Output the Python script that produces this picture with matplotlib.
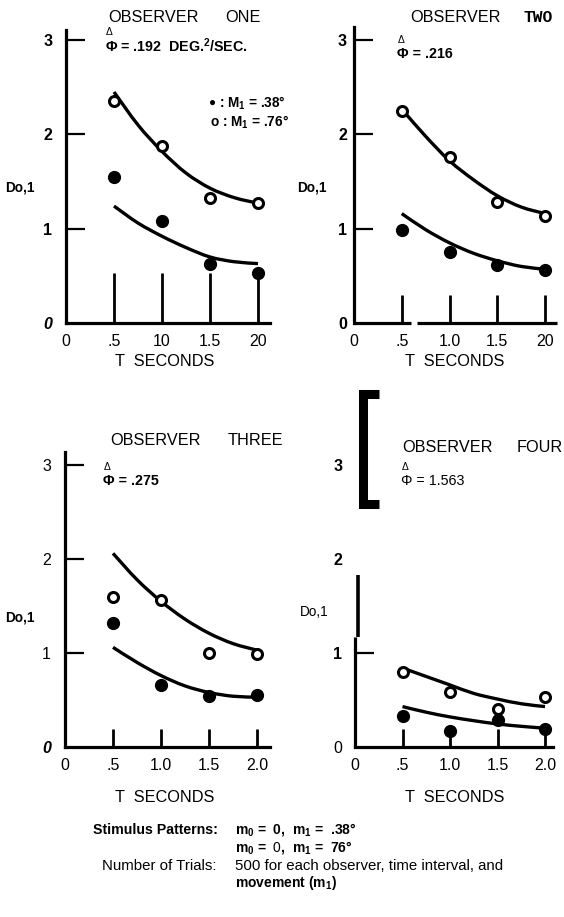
import matplotlib.pyplot as plt
from matplotlib.path import Path
from matplotlib.patches import PathPatch

plt.rcParams['font.family'] = ['Liberation Sans', 'DejaVu Sans']
plt.rcParams['mathtext.fontset'] = 'custom'
plt.rcParams['mathtext.rm'] = 'Liberation Sans'
plt.rcParams['mathtext.it'] = 'Liberation Sans:italic'
plt.rcParams['mathtext.bf'] = 'Liberation Sans:bold'

# -----------------------
# Data (T in seconds, D o,1)
# -----------------------
t_obs = [0.5, 1.0, 1.5, 2.0]
t_fit = [0.5, 0.75, 1.0, 1.25, 1.5, 1.75, 2.0]
t_fit_two = [0.55, 0.75, 1.0, 1.25, 1.5, 1.75, 2.0]

x_ticks = [0, 0.5, 1.0, 1.5, 2.0]
y_ticks = [0, 1, 2, 3]

one_open = [2.35, 1.88, 1.33, 1.27]
one_filled = [1.55, 1.08, 0.63, 0.53]
one_fit_open = [2.45, 2.10, 1.82, 1.59, 1.43, 1.33, 1.27]
one_fit_filled = [1.24, 1.06, 0.92, 0.80, 0.70, 0.65, 0.63]

two_open = [2.25, 1.76, 1.28, 1.13]
two_filled = [0.99, 0.75, 0.62, 0.56]
two_fit_open = [2.21, 1.98, 1.72, 1.52, 1.35, 1.23, 1.16]
two_fit_filled = [1.16, 0.99, 0.85, 0.74, 0.66, 0.60, 0.57]

three_open = [1.60, 1.56, 1.00, 0.99]
three_filled = [1.32, 0.66, 0.54, 0.55]
three_fit_open = [2.06, 1.78, 1.55, 1.36, 1.21, 1.10, 1.03]
three_fit_filled = [1.06, 0.90, 0.76, 0.65, 0.58, 0.54, 0.53]

four_open = [0.80, 0.59, 0.40, 0.53]
four_filled = [0.33, 0.17, 0.29, 0.19]
four_fit_open = [0.84, 0.75, 0.66, 0.57, 0.51, 0.46, 0.43]
four_fit_filled = [0.43, 0.37, 0.32, 0.28, 0.245, 0.22, 0.20]

W, H = 564, 917
fig = plt.figure(figsize=(W / 100, H / 100), dpi=100)


def put(x, y, s, **kw):
    kw.setdefault('va', 'center')
    kw.setdefault('ha', 'left')
    kw.setdefault('fontsize', 11.7)
    fig.text(x / W, 1 - y / H, s, **kw)


def make_panel(left, base, right, top, xs, ys, xlabels, tick_len, ypad):
    ax = fig.add_axes([left / W, 1 - base / H, (right - left) / W, (base - top) / H])
    ax.set_xlim(0, (right - left) / xs)
    ax.set_ylim(0, (base - top) / ys)
    ax.patch.set_alpha(0)
    for s in ['top', 'right']:
        ax.spines[s].set_visible(False)
    for s in ['left', 'bottom']:
        ax.spines[s].set_linewidth(2.3)
    ax.set_xticks(x_ticks, xlabels, fontsize=11.5)
    ax.tick_params(axis='x', direction='in', length=tick_len, width=2, pad=8)
    ax.xaxis.get_major_ticks()[0].tick1line.set_visible(False)
    ax.set_yticks(y_ticks, ['0', '1', '2', '3'], fontsize=11.5, fontweight='bold')
    ax.tick_params(axis='y', direction='in', length=14, width=1.6, pad=ypad)
    ax.yaxis.get_major_ticks()[0].tick1line.set_visible(False)
    return ax


def smooth_curve(ax, xs, ys):
    # Catmull-Rom through the read-off points, drawn as cubic Bezier pieces
    n = len(xs)
    verts = [(xs[0], ys[0])]
    codes = [Path.MOVETO]
    for i in range(n - 1):
        a, b = max(i - 1, 0), min(i + 2, n - 1)
        c1 = (xs[i] + (xs[i + 1] - xs[a]) / 6, ys[i] + (ys[i + 1] - ys[a]) / 6)
        c2 = (xs[i + 1] - (xs[b] - xs[i]) / 6, ys[i + 1] - (ys[b] - ys[i]) / 6)
        verts += [c1, c2, (xs[i + 1], ys[i + 1])]
        codes += [Path.CURVE4] * 3
    ax.add_patch(PathPatch(Path(verts, codes), fill=False, lw=2.4, ec='k', clip_on=False))


def draw_series(ax, t_line, fit_open, fit_filled, vals_open, vals_filled):
    smooth_curve(ax, t_line, fit_open)
    smooth_curve(ax, t_fit, fit_filled)
    ax.plot(t_obs, vals_open, 'o', ms=7.2, mfc='white', mec='k', mew=2.2, clip_on=False, zorder=3)
    ax.plot(t_obs, vals_filled, 'o', ms=8.5, color='k', clip_on=False, zorder=3)


# -----------------------
# Observer one
# -----------------------
ax1 = make_panel(66, 323, 270, 30, 96, 94.3, ['0', '.5', '10', '1.5', '20'], 36, 10)
draw_series(ax1, t_fit, one_fit_open, one_fit_filled, one_open, one_filled)
ax1.get_yticklabels()[0].set_fontstyle('italic')
put(108, 17, 'OBSERVER')
put(225, 17, 'ONE')
put(106, 32, 'Δ', fontsize=7.5)
put(105, 46, 'Φ = .192  DEG.$^{\\mathbf{2}}$/SEC.', fontsize=10.3, fontweight='bold')
put(209, 103, '●', fontsize=8.5)
put(219, 103, ': M$_\\mathbf{1}$ = .38°', fontsize=9.8, fontweight='bold')
put(210, 122, 'o : M$_\\mathbf{1}$ = .76°', fontsize=9.8, fontweight='bold')
put(5, 188, 'Do,1', fontsize=9.8, fontweight='bold')
put(165, 362, 'T  SECONDS', ha='center')

# -----------------------
# Observer two
# -----------------------
ax2 = make_panel(354, 323, 557, 27, 95.5, 94.3, ['0', '.5', '1.0', '1.5', '20'], 20, 5)
draw_series(ax2, t_fit_two, two_fit_open, two_fit_filled, two_open, two_filled)
# the baseline has a small break just past .5
ax2.spines['bottom'].set_visible(False)
ax2.plot([0, 0.6], [0, 0], color='k', lw=2.3, clip_on=False, solid_capstyle='butt')
ax2.plot([0.66, 2.13], [0, 0], color='k', lw=2.3, clip_on=False, solid_capstyle='butt')
put(410, 17, 'OBSERVER')
put(523, 17, 'TWO', family='Liberation Mono', fontweight='bold')
put(398, 40, 'Δ', fontsize=7.5)
put(397, 54, 'Φ = .216', fontsize=10.3, fontweight='bold')
put(297, 187, 'Do,1', fontsize=9.8, fontweight='bold')
put(455, 362, 'T  SECONDS', ha='center')

# -----------------------
# Observer three
# -----------------------
ax3 = make_panel(65, 747, 270, 452, 96, 94, ['0', '.5', '1.0', '1.5', '2.0'], 13, 10)
draw_series(ax3, t_fit, three_fit_open, three_fit_filled, three_open, three_filled)
for lab in ax3.get_yticklabels()[1:]:
    lab.set_fontweight('normal')
ax3.get_yticklabels()[0].set_fontstyle('italic')
put(110, 440, 'OBSERVER')
put(228, 440, 'THREE')
put(104, 467, 'Δ', fontsize=7.5)
put(103, 481, 'Φ = .275', fontsize=10.3, fontweight='bold')
put(5, 617, 'Do,1', fontsize=9.8, fontweight='bold')
put(165, 797, 'T  SECONDS', ha='center')

# -----------------------
# Observer four (pasted-up vertical axis)
# -----------------------
ax4 = make_panel(355, 747, 553, 385, 95, 94, ['0', '.5', '1.0', '1.5', '2.0'], 13, 9)
draw_series(ax4, t_fit, four_fit_open, four_fit_filled, four_open, four_filled)
ax4.spines['left'].set_visible(False)
ax4.yaxis.get_major_ticks()[2].tick1line.set_visible(False)
ax4.yaxis.get_major_ticks()[3].tick1line.set_visible(False)
ax4.get_yticklabels()[0].set_fontweight('normal')
ax4.plot([0, 0], [0, 1.17], color='k', lw=2.3, clip_on=False, solid_capstyle='butt')
ax4.plot([0.035, 0.035], [1.17, 1.83], color='k', lw=2.6, clip_on=False, solid_capstyle='butt')
ax4.plot([0.25, 0.085, 0.085, 0.25], [3.76, 3.76, 2.58, 2.58], color='k', lw=6.5,
         clip_on=False, solid_joinstyle='miter', solid_capstyle='butt')
put(402, 448, 'OBSERVER')
put(517, 448, 'FOUR')
put(402, 467, 'Δ', fontsize=7.5)
put(401, 481, 'Φ = 1.563', fontsize=10.3)
put(300, 612, 'Do,1', fontsize=9.8)
put(455, 797, 'T  SECONDS', ha='center')

# -----------------------
# Notes under the panels
# -----------------------
put(93, 830, 'Stimulus Patterns:', fontsize=10.2, fontweight='bold')
put(235, 830, 'm$_\\mathbf{0}$ =  0,  m$_\\mathbf{1}$ =  .38°', fontsize=10, fontweight='bold')
put(235, 847, 'm$_\\mathbf{0}$ =  $\\it{0}$,  m$_\\mathbf{1}$ =  76°', fontsize=10, fontweight='bold')
put(102, 866, 'Number of Trials:', fontsize=10.8)
put(235, 866, '500 for each observer, time interval, and', fontsize=10.8)
put(235, 883, 'movement (m$_\\mathbf{1}$)', fontsize=10, fontweight='bold')

fig.savefig('out.png', dpi=100)
